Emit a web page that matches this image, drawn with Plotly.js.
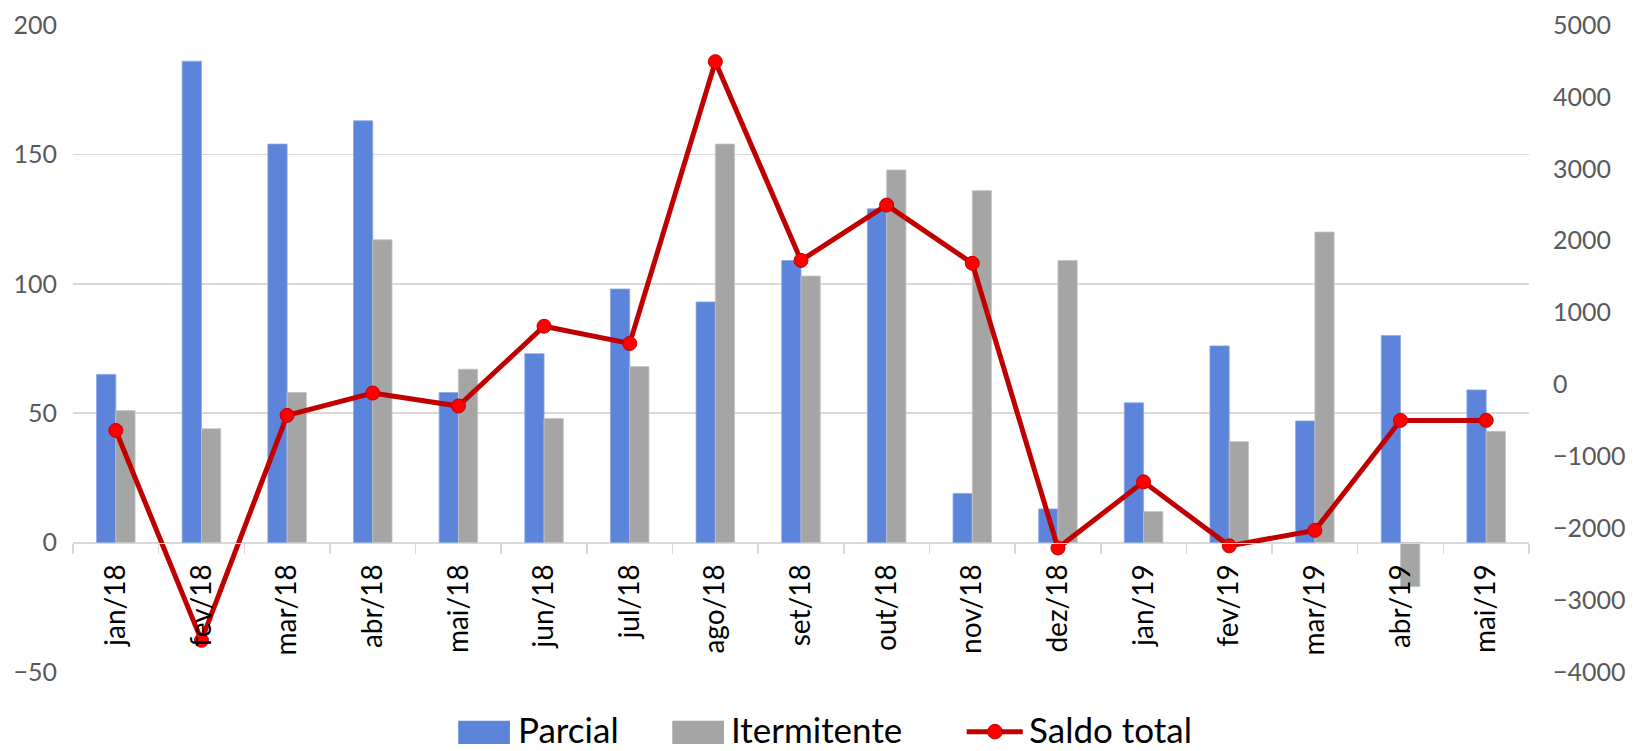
<!DOCTYPE html>
<html>
<head>
<meta charset="utf-8">
<script src="https://cdn.plot.ly/plotly-3.0.1.min.js"></script>
<style>html,body{margin:0;padding:0;background:#fff;}#chart{width:1652px;height:751px;}</style>
</head>
<body>
<div id="chart"></div>
<script>
const categories = ["jan/18","fev/18","mar/18","abr/18","mai/18","jun/18","jul/18","ago/18","set/18","out/18","nov/18","dez/18","jan/19","fev/19","mar/19","abr/19","mai/19"];
const parcial = [65, 186, 154, 163, 58, 73, 98, 93, 109, 129, 19, 13, 54, 76, 47, 80, 59];
const intermitente = [51, 44, 58, 117, 67, 48, 68, 154, 103, 144, 136, 109, 12, 39, 120, -17, 43];
const saldoTotal = [-640, -3560, -430, -120, -300, 810, 570, 4490, 1725, 2495, 1685, -2275, -1355, -2245, -2030, -500, -500];
const leftTicks = [-50, 0, 50, 100, 150, 200];
const rightTicks = [-4000, -3000, -2000, -1000, 0, 1000, 2000, 3000, 4000, 5000];
const seriesNames = ["Parcial", "Itermitente", "Saldo total"];

const font = "Lato, 'Open Sans', sans-serif";
const BLUE = "#5B84DA", GRAY = "#A5A5A5", RED_LINE = "#C00000", RED_DOT = "#FF0000";

const traces = [
  {type: "bar", name: seriesNames[0], x: categories, y: parcial,
   marker: {color: BLUE, line: {color: "#8CA8E6", width: 0.8}}, yaxis: "y"},
  {type: "bar", name: seriesNames[1], x: categories, y: intermitente,
   marker: {color: GRAY, line: {color: "#C4C4C4", width: 0.8}}, yaxis: "y"},
  {type: "scatter", mode: "lines+markers", name: seriesNames[2], x: categories, y: saldoTotal,
   yaxis: "y2", line: {color: RED_LINE, width: 5},
   marker: {color: RED_DOT, size: 14, line: {color: RED_LINE, width: 1}}}
];

// custom legend (larger symbols as in the original)
const ly0 = -0.1114, ly1 = -0.0752, lyc = -0.0922;
const shapes = [
  {type: "rect", xref: "paper", yref: "paper", x0: 0.2646, x1: 0.3001, y0: ly0, y1: ly1,
   fillcolor: BLUE, line: {width: 0}},
  {type: "rect", xref: "paper", yref: "paper", x0: 0.4116, x1: 0.4471, y0: ly0, y1: ly1,
   fillcolor: GRAY, line: {width: 0}},
  {type: "line", xref: "paper", yref: "paper", x0: 0.6138, x1: 0.6523, y0: lyc, y1: lyc,
   line: {color: RED_LINE, width: 5}},
  {type: "circle", xref: "paper", yref: "paper", x0: 0.6332 - 0.0050, x1: 0.6332 + 0.0050,
   y0: lyc - 0.0113, y1: lyc + 0.0113, fillcolor: RED_DOT, line: {color: RED_LINE, width: 1}}
];
const legendX = [0.3040, 0.4506, 0.6555];
const annotations = seriesNames.map((n, i) => ({
  text: n, xref: "paper", yref: "paper", x: legendX[i], y: lyc + 0.004, xanchor: "left", yanchor: "middle",
  showarrow: false, font: {size: 35, color: "#000", family: font}
}));

const layout = {
  width: 1652, height: 751,
  margin: {l: 73, r: 123, t: 25, b: 79, autoexpand: false},
  paper_bgcolor: "#fff", plot_bgcolor: "#fff",
  font: {family: font, color: "#595959"},
  barmode: "group", bargap: 0.55, bargroupgap: 0,
  showlegend: false,
  shapes: shapes, annotations: annotations,
  xaxis: {type: "category", range: [-0.5, categories.length - 0.5], anchor: "free", position: 0.2, automargin: false,
          showline: true, linecolor: "#D9D9D9", linewidth: 1.5,
          ticks: "outside", tickson: "boundaries", ticklen: 10, tickcolor: "#D9D9D9", tickwidth: 1.5,
          ticklabelstandoff: 9,
          tickangle: -90, tickfont: {size: 28, color: "#000", family: font},
          showgrid: false, zeroline: false, fixedrange: true},
  yaxis: {range: [-50, 200], tickvals: leftTicks, automargin: false,
          showgrid: true, gridcolor: "#D9D9D9", gridwidth: 1.5,
          zeroline: false, showline: false, ticks: "outside", ticklen: 10, tickcolor: "rgba(0,0,0,0)",
          tickfont: {size: 25, color: "#595959", family: font}},
  yaxis2: {range: [-4000, 5000], tickvals: rightTicks, overlaying: "y", side: "right", automargin: false,
           showgrid: false, zeroline: false, showline: false, ticks: "outside", ticklen: 18,
           tickcolor: "rgba(0,0,0,0)", tickfont: {size: 25, color: "#595959", family: font}}
};

Plotly.newPlot("chart", traces, layout, {displayModeBar: false, staticPlot: true});
</script>
</body>
</html>
